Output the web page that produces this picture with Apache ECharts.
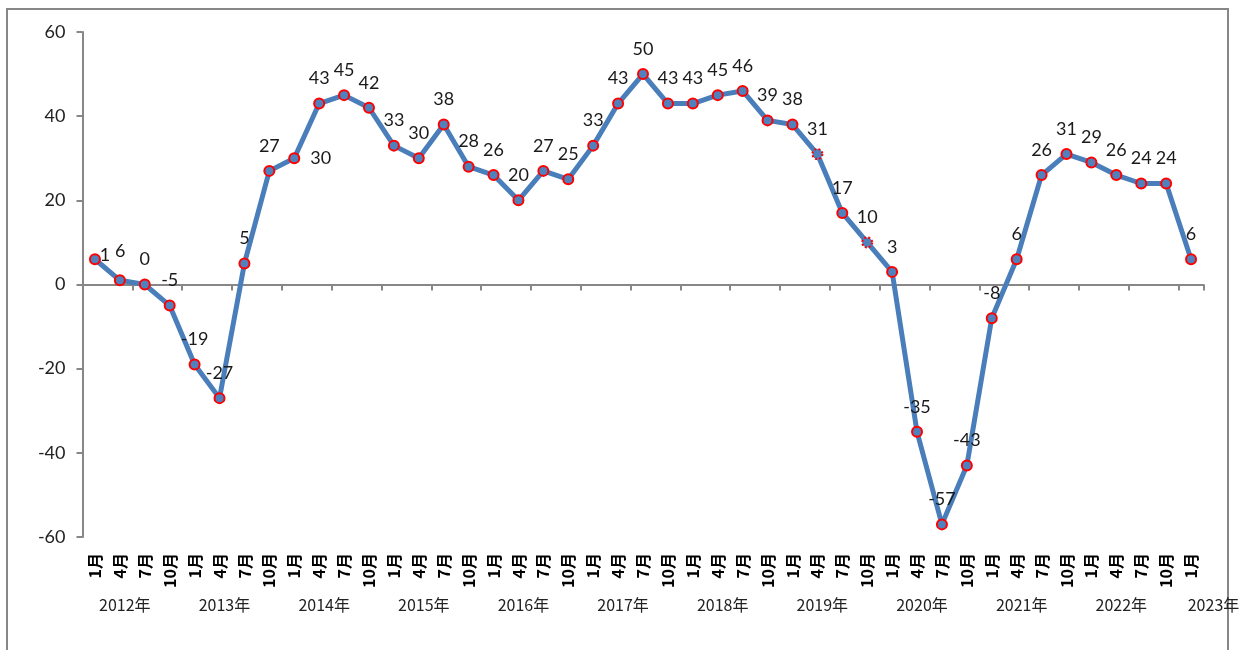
<!DOCTYPE html>
<html>
<head>
<meta charset="utf-8">
<script src="https://cdn.jsdelivr.net/npm/echarts@6/dist/echarts.min.js"></script>
<style>
  html, body { margin: 0; padding: 0; background: #fff; }
  #chart { width: 1250px; height: 650px; }
</style>
</head>
<body>
<div id="chart"></div>
<script>
// year groups and quarter months on the category axis
const years = ['2012年', '2013年', '2014年', '2015年', '2016年', '2017年', '2018年', '2019年', '2020年', '2021年', '2022年', '2023年']
const months = ['1月', '4月', '7月', '10月']
const lastYearMonths = ['1月']

const values = [
  6, 1, 0, -5,
  -19, -27, 5, 27,
  30, 43, 45, 42,
  33, 30, 38, 28,
  26, 20, 27, 25,
  33, 43, 50, 43,
  43, 45, 46, 39,
  38, 31, 17, 10,
  3, -35, -57, -43,
  -8, 6, 26, 31,
  29, 26, 24, 24,
  6
]

const yTicks = { min: -60, max: 60, interval: 20 }

// build the month categories from the year groups
const categories = []
years.forEach((y, i) => {
  const ms = i === years.length - 1 ? lastYearMonths : months
  ms.forEach(m => categories.push(m))
})

// where each year label sits on the value axis that mirrors the categories
const yearPos = years.map((y, i) => (i === years.length - 1 ? categories.length - 0.5 : i * 4 + 1.2))

// label placement tweaks (Excel put a few of them beside the point)
const labelTweaks = {
  0: { position: 'right', distance: 6, offset: [8, -8] },
  1: { position: 'top', offset: [-15, 0] },
  8: { position: 'right', distance: 10 }
}
const dottedPoints = [29, 31]

const seriesData = values.map((v, i) => {
  const item = { value: v }
  if (labelTweaks[i]) item.label = labelTweaks[i]
  if (dottedPoints.indexOf(i) > -1) item.itemStyle = { borderType: 'dotted' }
  return item
})

const axisGray = '#878787'
const numFont = 'Lato, "Open Sans", sans-serif'
const cjkFont = '"Noto Sans CJK JP", "Noto Sans CJK SC", sans-serif'

const chart = echarts.init(document.getElementById('chart'), null, { renderer: 'canvas' })
chart.setOption({
  animation: false,
  backgroundColor: '#fff',
  grid: { left: 82.5, right: 46.5, top: 32, bottom: 113, containLabel: false },
  xAxis: [
    {
      // the line at zero with boundary ticks
      type: 'category',
      data: categories,
      boundaryGap: true,
      axisLine: { onZero: true, lineStyle: { color: axisGray, width: 2 } },
      axisTick: { show: true, length: 6, lineStyle: { color: axisGray, width: 2 } },
      axisLabel: { show: false },
      splitLine: { show: false }
    },
    {
      // month labels under the plot
      type: 'category',
      data: categories,
      position: 'bottom',
      boundaryGap: true,
      axisLine: { show: false, onZero: false },
      axisTick: { show: false },
      splitLine: { show: false },
      axisLabel: {
        rotate: 90,
        interval: 0,
        margin: 16,
        fontSize: 16,
        fontWeight: 'bold',
        color: '#000',
        fontFamily: cjkFont
      }
    },
    {
      // year labels
      type: 'value',
      position: 'bottom',
      min: -0.5,
      max: categories.length - 0.5,
      axisLine: { show: false, onZero: false },
      axisTick: { show: false },
      splitLine: { show: false },
      axisLabel: {
        customValues: yearPos,
        margin: 60,
        fontSize: 16,
        color: '#222',
        fontFamily: cjkFont,
        formatter: function (val) {
          const i = yearPos.findIndex(p => Math.abs(p - val) < 1e-6)
          if (i < 0) return ''
          return i === years.length - 1 ? '{r|' + years[i] + '}' : years[i]
        },
        rich: {
          r: { fontSize: 16, color: '#222', fontFamily: cjkFont, padding: [0, 0, 0, 20] }
        }
      }
    }
  ],
  yAxis: {
    type: 'value',
    min: yTicks.min,
    max: yTicks.max,
    interval: yTicks.interval,
    axisLine: { show: true, onZero: false, lineStyle: { color: axisGray, width: 2 } },
    axisTick: { show: true, length: 6, lineStyle: { color: axisGray, width: 2 } },
    splitLine: { show: false },
    axisLabel: { fontSize: 18, color: '#222', margin: 17, fontFamily: numFont }
  },
  series: [
    {
      type: 'line',
      xAxisIndex: 0,
      yAxisIndex: 0,
      data: seriesData,
      symbol: 'circle',
      symbolSize: 10,
      lineStyle: { color: '#4A7EBB', width: 5 },
      itemStyle: { color: '#4F81BD', borderColor: '#FF0000', borderWidth: 2 },
      label: {
        show: true,
        position: 'top',
        distance: 10,
        fontSize: 18,
        color: '#1a1a1a',
        fontFamily: numFont
      },
      emphasis: { disabled: true }
    }
  ],
  graphic: [
    {
      type: 'rect',
      silent: true,
      shape: { x: 7, y: 9, width: 1221, height: 700 },
      style: { fill: 'none', stroke: axisGray, lineWidth: 2 }
    }
  ]
})
</script>
</body>
</html>
